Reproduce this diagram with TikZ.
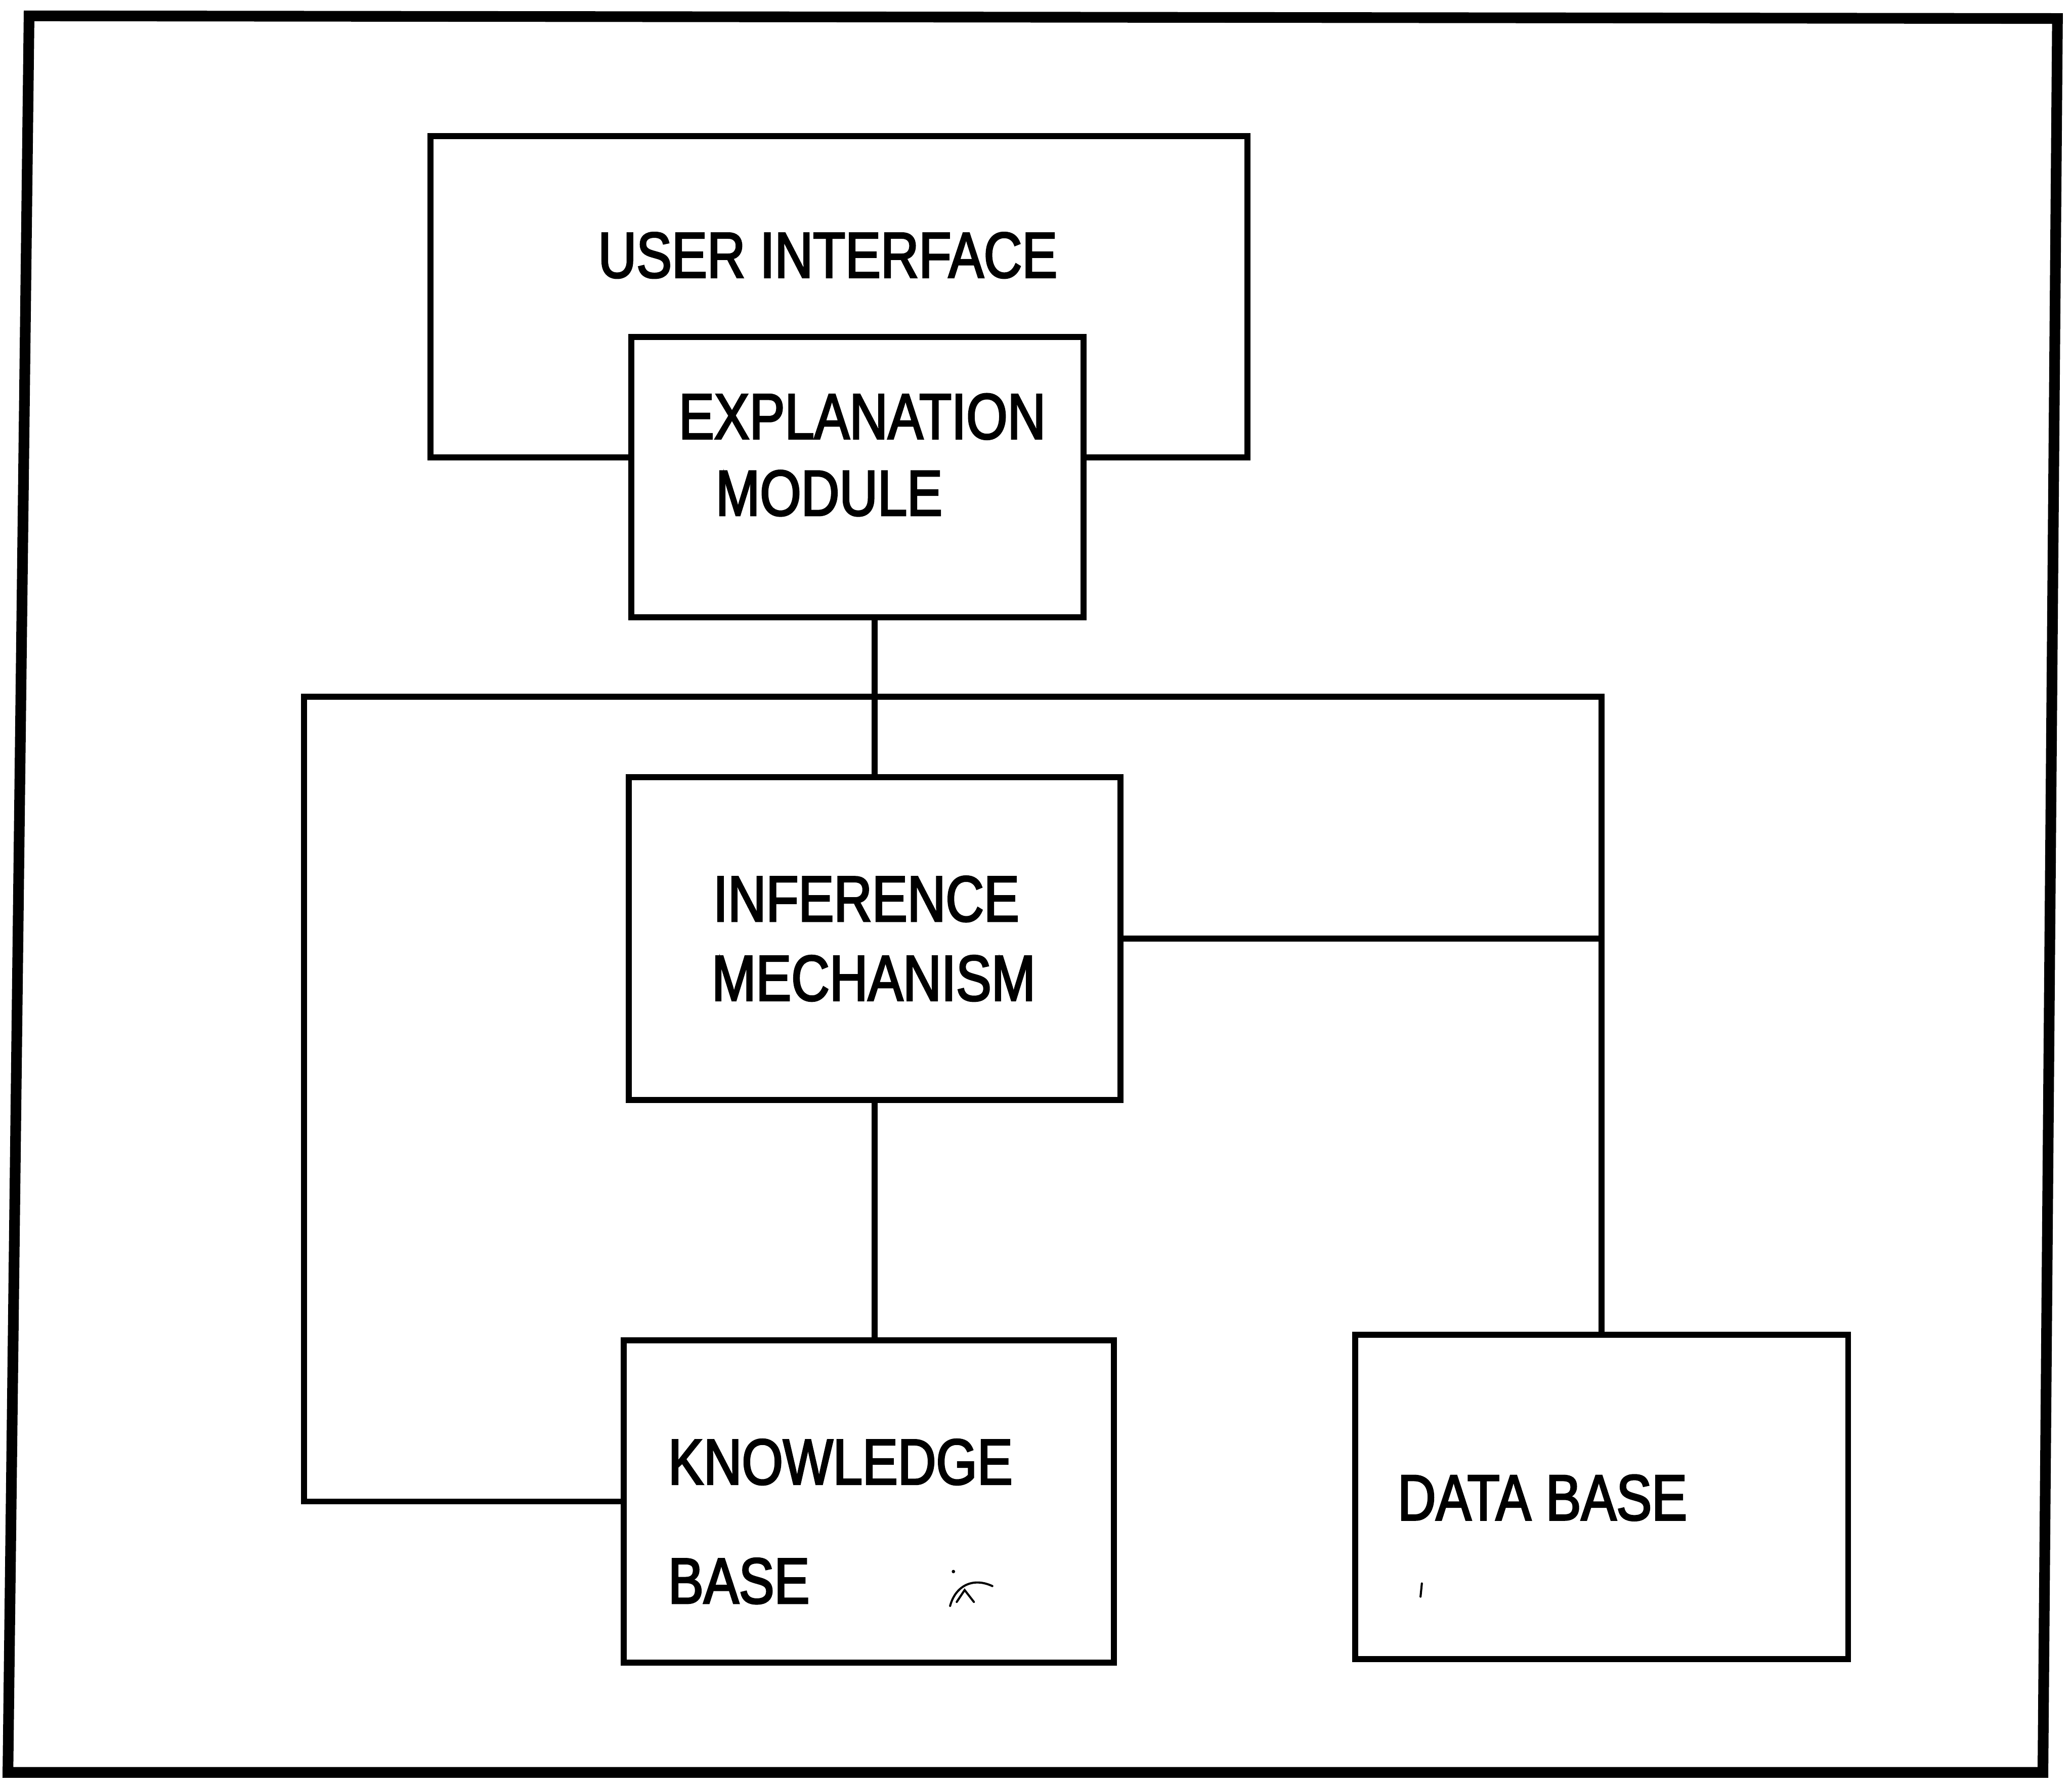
\documentclass[tikz,border=0pt]{standalone}
\usepackage{fontspec}
\usepackage{tikz}
\usetikzlibrary{positioning}
\newfontfamily\blockfont[FakeStretch=0.82, FakeBold=2.6]{Liberation Sans}
\def\blk{\blockfont\fontsize{13.9}{16}\selectfont}
\tikzstyle{frame}=[line width=2.3pt, line join=miter]
\tikzstyle{block}=[draw, rectangle, line width=1.3pt, fill=white, inner sep=0pt]
\tikzstyle{blocktext}=[anchor=base west, inner sep=0pt, font=\blk]
\tikzstyle{wire}=[line width=1.3pt]
\tikzstyle{penmark}=[line width=0.45pt, line cap=round]

\begin{document}
\begin{tikzpicture}[x=0.01cm, y=-0.01cm]
  \useasboundingbox (0,0) rectangle (1568,1345);

  % outer frame
  \draw[frame] (22,12) -- (1557,14) -- (1546,1341) -- (6,1341) -- cycle;

  % blocks, the explanation module sits over the user interface
  \node[block, minimum width=6.18cm, minimum height=2.43cm] (ui) at (635,224.5) {};
  \node[block, minimum width=3.42cm, minimum height=2.12cm] (expl) at (649,361) {};
  \node[block, minimum width=3.72cm, minimum height=2.44cm] (inf) at (662,710) {};
  \node[block, minimum width=3.71cm, minimum height=2.44cm] (kb) at (657.5,1136) {};
  \node[block, minimum width=3.73cm, minimum height=2.45cm] (db) at (1212,1132.5) {};

  \node[blocktext] (uitxt) at (452,210) {USER INTERFACE};
  \node[blocktext] (expltxt) at (513,332) {EXPLANATION};
  \node[blocktext] (modtxt) at (541,390) {MODULE};
  \node[blocktext] (inftxt) at (539,697) {INFERENCE};
  \node[blocktext] (mechtxt) at (538,757) {MECHANISM};
  \node[blocktext] (kbtxt) at (505,1123) {KNOWLEDGE};
  \node[blocktext] (basetxt) at (505,1213) {BASE};
  \node[blocktext] (dbtxt) at (1057,1150) {DATA BASE};

  % connections
  \coordinate (busL) at (230,527);
  \coordinate (busR) at (db.north |- busL);
  \draw[wire] (inf.north |- expl.south) -- (inf.north);
  \draw[wire] (kb.west) -| (busL) -- (busR) -- (db.north);
  \draw[wire] (inf.east) -- (inf.east -| db.north);
  \draw[wire] (inf.south) -- (inf.south |- kb.north);

  % stray pen marks
  \fill (721.5,1189) circle (1.3);
  \draw[penmark] (719,1215) .. controls (723,1200) and (736,1193) .. (751,1200);
  \draw[penmark] (724,1212) -- (730,1203) -- (737,1212);
  \draw[penmark] (1076,1198) -- (1075,1208);

\end{tikzpicture}
\end{document}
